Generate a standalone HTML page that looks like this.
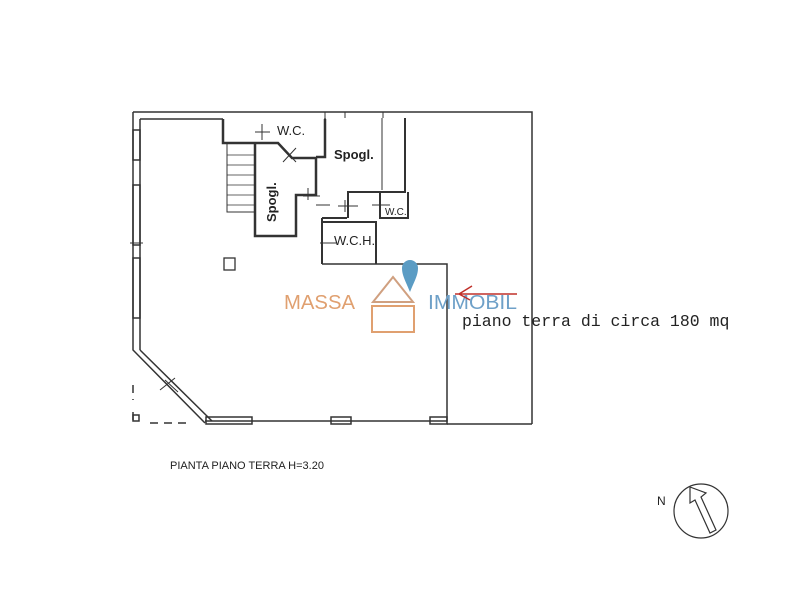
<!DOCTYPE html>
<html><head><style>body{margin:0;background:#fff}svg{display:block}</style></head>
<body>
<svg width="800" height="600" viewBox="0 0 800 600" xmlns="http://www.w3.org/2000/svg">
<g fill="none" stroke="#333" stroke-width="1.5">
<path d="M133 112 H532 V424"/>
<path d="M140 119 H223"/>
<path d="M140 119 V350"/>
<path d="M133 112 V350 L205 423"/>
<path d="M140 350 L212 421"/>
<path d="M205 421 H447 V264 H322"/>
<path d="M447 424 H532"/>
<path d="M133 385 V400 M133 412 V420 M150 423 H190" stroke-dasharray="8 6"/>
<rect x="133" y="415" width="6" height="6"/>
<rect x="206" y="417" width="46" height="7"/>
<rect x="331" y="417" width="20" height="7"/>
<rect x="430" y="417" width="17" height="7"/>
<rect x="133" y="130" width="7" height="30"/>
<rect x="133" y="185" width="7" height="60"/>
<rect x="133" y="258" width="7" height="60"/>
<path d="M223 119 V143 H278 L292 158 H316 V195 H296 V236 H255 V143" stroke-width="2.5"/>
<path d="M325 119 V157 H316" stroke-width="2.5"/>
<rect x="227" y="143" width="28" height="69" stroke-width="1"/>
<path d="M227 155H255M227 165H255M227 175H255M227 185H255M227 195H255M227 205H255" stroke-width="0.8"/>
<path d="M325 118 V157"/>
<path d="M405 118 V192 H348 V218 M380 192 V218 H408 V192 M347 218 H322 M322 218 V264 M322 222 H376 V264" stroke-width="2"/>
<path d="M382 118 V190" stroke-width="1"/>
<path d="M325 112 V118 M345 112 V118 M383 112 V118" stroke-width="1"/>
<path d="M283 148 L296 162 M296 148 L283 162 M255 132 H270 M262 124 V140 M308 188 V200 M303 196 H320 M316 205 H330 M345 200 V212 M338 206 H358 M380 200 V214 M372 205 H390 M320 243 H336" stroke-width="1"/>
<rect x="224" y="258" width="11" height="12" stroke-width="1.3"/>
<path d="M130 243 H143 M165 380 L178 392 M160 390 L175 378" stroke-width="1"/>
</g>
<g font-family="Liberation Sans, sans-serif" fill="#222">
<text x="277" y="135" font-size="13">W.C.</text>
<text x="334" y="159" font-size="13" font-weight="bold">Spogl.</text>
<text x="334" y="245" font-size="13">W.C.H.</text>
<text x="385" y="215" font-size="10">W.C.</text>
<text transform="translate(276,222) rotate(-90)" font-size="13" font-weight="bold">Spogl.</text>
<text x="170" y="469" font-size="11">PIANTA PIANO TERRA H=3.20</text>
<text x="657" y="505" font-size="12">N</text>
</g>
<text x="462" y="326" font-family="Liberation Mono, monospace" font-size="16.5" fill="#222">piano terra di circa 180 mq</text>
<text x="284" y="309" font-family="Liberation Sans, sans-serif" font-size="20" fill="#e0a070" textLength="71" lengthAdjust="spacingAndGlyphs">MASSA</text>
<text x="428" y="309" font-family="Liberation Sans, sans-serif" font-size="20" fill="#6ea0c8" textLength="89" lengthAdjust="spacingAndGlyphs">IMMOBIL</text>
<path d="M373 302 L393 277 L413 302 Z" fill="none" stroke="#d0a080" stroke-width="2"/>
<rect x="372" y="306" width="42" height="26" fill="none" stroke="#e0a070" stroke-width="2"/>
<path d="M410 292 C405 280 402 275 402 268 A8 8 0 0 1 418 268 C418 275 415 280 410 292 Z" fill="#5b9cc4"/>
<path d="M455 294 H517 M459 294 L472 286 M459 294 L470 300" stroke="#c0302a" stroke-width="1.5" fill="none"/>
<circle cx="701" cy="511" r="27" fill="none" stroke="#333" stroke-width="1.2"/>
<path d="M690 487 L706 493 L701 497 L716 530 L710 533 L695 500 L690 503 Z" fill="none" stroke="#333" stroke-width="1.2"/>
</svg>
</body></html>
